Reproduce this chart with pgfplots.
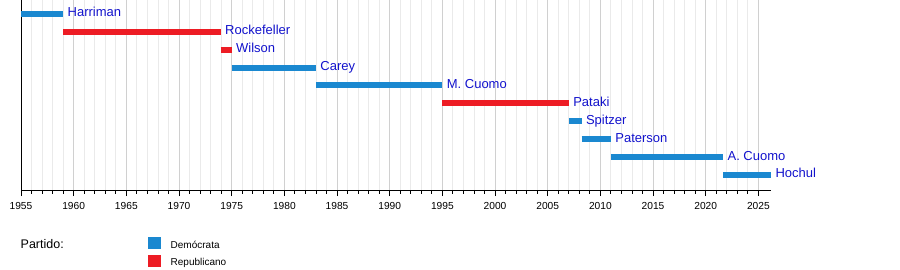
\documentclass[border=0pt]{standalone}
\usepackage{fontspec}
\setmainfont{Liberation Sans}
\usepackage{pgfplots}
\pgfplotsset{compat=1.18}
\definecolor{dem}{RGB}{26,136,208}
\definecolor{rep}{RGB}{237,28,36}
\definecolor{lab}{RGB}{18,18,204}
\tikzset{gov/.style={pos=1, anchor=base west, inner sep=0pt, outer sep=0pt, xshift=4.5pt, yshift=-3pt, text=lab, font=\fontsize{13}{15}\selectfont}}
\begin{document}
\begin{tikzpicture}
\useasboundingbox (0pt,0pt) rectangle (900pt,-270pt);
\begin{axis}[
  at={(21pt,-190.5pt)}, anchor=south west,
  scale only axis, width=750pt, height=190.5pt,
  xmin=1955, xmax=2026.2, ymin=0.134, ymax=10.77,
  axis lines*=left, clip=false,
  axis line style={black, line width=0.9pt},
  xtick={1955,1960,...,2025}, minor x tick num=4,
  ytick=\empty,
  tick align=outside, xtick pos=bottom,
  major tick length=5.5pt, minor tick length=3pt,
  every tick/.style={black, line width=0.8pt},
  xmajorgrids, xminorgrids,
  major grid style={draw={rgb,255:red,208;green,208;blue,208}, line width=0.8pt},
  minor grid style={draw={rgb,255:red,234;green,234;blue,234}, line width=0.8pt},
  /pgf/number format/1000 sep={},
  /pgf/number format/assume math mode=true,
  xticklabel style={font=\fontsize{10.2}{12}\selectfont, text=black, yshift=-2.5pt},
]
\addplot[dem, line width=6pt] coordinates {(1955,10) (1959,10)} node[gov]{Harriman};
\addplot[rep, line width=6pt] coordinates {(1959,9) (1973.96,9)} node[gov]{Rockefeller};
\addplot[rep, line width=6pt] coordinates {(1973.96,8) (1975,8)} node[gov]{Wilson};
\addplot[dem, line width=6pt] coordinates {(1975,7) (1983,7)} node[gov]{Carey};
\addplot[dem, line width=6pt] coordinates {(1983,6) (1995,6)} node[gov]{M. Cuomo};
\addplot[rep, line width=6pt] coordinates {(1995,5) (2007,5)} node[gov]{Pataki};
\addplot[dem, line width=6pt] coordinates {(2007,4) (2008.21,4)} node[gov]{Spitzer};
\addplot[dem, line width=6pt] coordinates {(2008.21,3) (2011,3)} node[gov]{Paterson};
\addplot[dem, line width=6pt] coordinates {(2011,2) (2021.65,2)} node[gov]{A. Cuomo};
\addplot[dem, line width=6pt] coordinates {(2021.65,1) (2026.2,1)} node[gov]{Hochul};
\end{axis}
\node[anchor=base west, inner sep=0, font=\fontsize{12.5}{14}\selectfont] at (20.5pt,-248.3pt) {Partido:};
\fill[dem] (148pt,-237pt) rectangle (160.5pt,-249pt);
\fill[rep] (148pt,-255pt) rectangle (160.5pt,-267pt);
\node[anchor=base west, inner sep=0, font=\fontsize{10}{12}\selectfont] at (170.5pt,-248.3pt) {Demócrata};
\node[anchor=base west, inner sep=0, font=\fontsize{10}{12}\selectfont] at (170.5pt,-265.5pt) {Republicano};
\end{tikzpicture}
\end{document}
